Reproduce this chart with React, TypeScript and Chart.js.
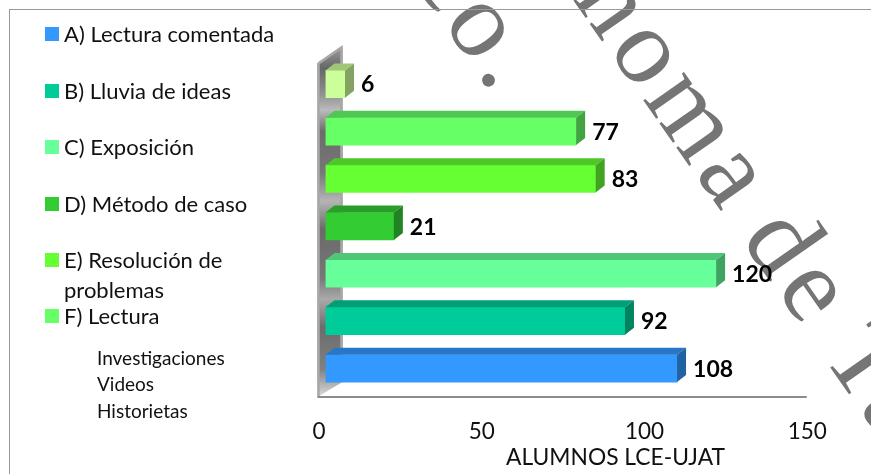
import { useEffect, useRef } from "react";
import { Chart, registerables } from "chart.js";

Chart.register(...registerables);

const categories = ["A) Lectura comentada", "B) Lluvia de ideas", "C) Exposición", "D) Método de caso", "E) Resolución de problemas", "F) Lectura", "Investigaciones"];
const values = [108, 92, 120, 21, 83, 77, 6];
const barColors = ["#3399FF", "#00CC99", "#66FF99", "#33CC33", "#66FF33", "#66FF66", "#CCFF99"];
const tickValues = [0, 50, 100, 150];
const axisTitle = "ALUMNOS LCE-UJAT";
const watermarkA = "co.";
const watermarkB = "noma de Ta";

const FONT = "Lato, Carlito, sans-serif";
const DX = 9;
const DY = 7;

function shade(hex: string, f: number) {
  const n = parseInt(hex.slice(1), 16);
  const r = Math.round(((n >> 16) & 255) * f);
  const g = Math.round(((n >> 8) & 255) * f);
  const b = Math.round((n & 255) * f);
  return `rgb(${r},${g},${b})`;
}

function poly(ctx: CanvasRenderingContext2D, pts: number[][], fill: string | CanvasGradient) {
  ctx.beginPath();
  pts.forEach(([x, y], i) => (i ? ctx.lineTo(x, y) : ctx.moveTo(x, y)));
  ctx.closePath();
  ctx.fillStyle = fill;
  ctx.fill();
}

const chart3d = {
  id: "chart3d",
  beforeDraw(chart: any) {
    const { ctx } = chart;
    ctx.save();
    ctx.fillStyle = "#757575";
    ctx.font = '108px "Liberation Serif"';
    (ctx as any).letterSpacing = "7px";
    (ctx as any).wordSpacing = "-9px";
    ctx.textBaseline = "alphabetic";
    ctx.textAlign = "left";
    const rot = (55 * Math.PI) / 180;
    ([[watermarkA, 410.3, -23], [watermarkB, 572, -1.5]] as [string, number, number][]).forEach(([t, x, y]) => {
      ctx.save();
      ctx.translate(x, y);
      ctx.rotate(rot);
      ctx.fillText(t, 0, 0);
      ctx.restore();
    });
    (ctx as any).letterSpacing = "0px";
    (ctx as any).wordSpacing = "0px";
    ctx.restore();
  },
  beforeDatasetsDraw(chart: any) {
    const { ctx, scales, chartArea } = chart;
    const x0 = scales.x.getPixelForValue(0) - 8;
    const xEnd = scales.x.getPixelForValue(150) - 7;
    const top = chartArea.top + 3;
    const bottom = chartArea.bottom + 5;
    const back = x0 + 25;
    const wall = [[x0, top], [back, top - 16], [back, bottom - 15], [x0, bottom]];
    ctx.save();
    const g = ctx.createLinearGradient(0, top - 16, 0, bottom);
    const stops: [number, string][] = [[0, "#9a9a9a"], [0.06, "#666"], [0.13, "#8d8d8d"], [0.18, "#bbb"], [0.24, "#6c6c6c"], [0.36, "#777"], [0.44, "#b5b5b5"], [0.52, "#6a6a6a"], [0.66, "#777"], [0.72, "#aaa"], [0.8, "#6c6c6c"], [0.92, "#808080"], [1, "#ddd"]];
    stops.forEach(([p, c]) => g.addColorStop(p, c));
    poly(ctx, wall, g);
    ctx.strokeStyle = "#a8a8a8";
    ctx.lineWidth = 2.5;
    ctx.beginPath();
    ctx.moveTo(x0 + 1, top);
    ctx.lineTo(x0 + 1, bottom);
    ctx.moveTo(x0 + 1, top);
    ctx.lineTo(back - 1, top - 16);
    ctx.lineTo(back - 1, bottom - 15);
    ctx.stroke();
    ctx.strokeStyle = "#8c8c8c";
    ctx.lineWidth = 2;
    ctx.beginPath();
    ctx.moveTo(x0, bottom);
    ctx.lineTo(xEnd, bottom);
    ctx.stroke();
    ctx.restore();
  },
  afterDatasetsDraw(chart: any) {
    const { ctx, chartArea } = chart;
    const bars = chart.getDatasetMeta(0).data;
    ctx.save();
    bars.forEach((b: any, i: number) => {
      const t = b.y - b.height / 2;
      const bt = b.y + b.height / 2;
      poly(ctx, [[b.base, t], [b.base + DX, t - DY], [b.x + DX, t - DY], [b.x, t]], shade(barColors[i], 0.78));
      poly(ctx, [[b.x, t], [b.x + DX, t - DY], [b.x + DX, bt - DY], [b.x, bt]], shade(barColors[i], 0.64));
      ctx.fillStyle = "#000";
      ctx.font = `bold 23px ${FONT}`;
      ctx.textAlign = "left";
      ctx.textBaseline = "middle";
      ctx.fillText(String(values[i]), b.x + DX + 7, b.y + 1);
    });
    ctx.fillStyle = "#111";
    ctx.font = `22.8px ${FONT}`;
    ctx.textAlign = "center";
    ctx.textBaseline = "middle";
    ctx.fillText(axisTitle, 615.5, chartArea.bottom + 66);
    ctx.restore();
  },
};

const legendRows: [string, number, string][] = [
  [categories[0], 34, barColors[0]],
  [categories[1], 91, barColors[1]],
  [categories[2], 147, barColors[2]],
  [categories[3], 204, barColors[3]],
  ["E) Resolución de", 260, barColors[4]],
  [categories[5], 316, barColors[5]],
];
const plainRows: [string, number, number, number][] = [
  ["problemas", 64, 290, 22],
  ["Investigaciones", 97, 358, 19],
  ["Videos", 97, 384, 19],
  ["Historietas", 97, 411, 19],
];

const textStyle = (left: number, cy: number, size: number): React.CSSProperties => ({
  position: "absolute",
  left,
  top: cy - 15,
  height: 30,
  lineHeight: "30px",
  fontFamily: FONT,
  fontSize: size,
  color: "#111",
  whiteSpace: "nowrap",
});

export default function App() {
  const ref = useRef<HTMLCanvasElement>(null);
  useEffect(() => {
    document.body.style.margin = "0";
    const chart = new Chart(ref.current!, {
      type: "bar",
      data: {
        labels: categories,
        datasets: [{ data: values, backgroundColor: barColors, borderWidth: 0, categoryPercentage: 1, barThickness: 27.3 } as any],
      },
      plugins: [chart3d as any],
      options: {
        indexAxis: "y",
        animation: false,
        responsive: false,
        layout: { padding: { left: 325.5, right: 57.25, top: 60.35, bottom: 0 } },
        plugins: { legend: { display: false }, tooltip: { enabled: false } },
        scales: {
          y: { reverse: true, display: false, grid: { display: false } },
          x: {
            min: 0,
            max: 150,
            afterBuildTicks: (s: any) => { s.ticks = tickValues.map((v) => ({ value: v })); },
            afterFit: (s: any) => { s.height = 81.9; },
            grid: { display: false, drawTicks: false },
            border: { display: false },
            ticks: { padding: 26, labelOffset: -6.5, maxRotation: 0, color: "#111", font: { family: FONT, size: 22.5 } },
          },
        },
      },
    });
    return () => chart.destroy();
  }, []);
  return (
    <div style={{ position: "relative", width: 871, height: 474, overflow: "hidden", background: "#fff" }}>
      <canvas ref={ref} width={871} height={474} style={{ position: "absolute", left: 0, top: 0, display: "block" }} />
      <div style={{ position: "absolute", left: 9, top: 9, right: -2, bottom: -2, borderLeft: "1px solid #999", borderTop: "1px solid #999" }} />
      {legendRows.map(([t, cy, c]) => (
        <div key={t}>
          <div style={{ position: "absolute", left: 45, top: cy - 7, width: 14, height: 14, background: c }} />
          <div style={textStyle(64, cy, 22)}>{t}</div>
        </div>
      ))}
      {plainRows.map(([t, x, cy, s]) => (
        <div key={t} style={textStyle(x, cy, s)}>{t}</div>
      ))}
    </div>
  );
}
